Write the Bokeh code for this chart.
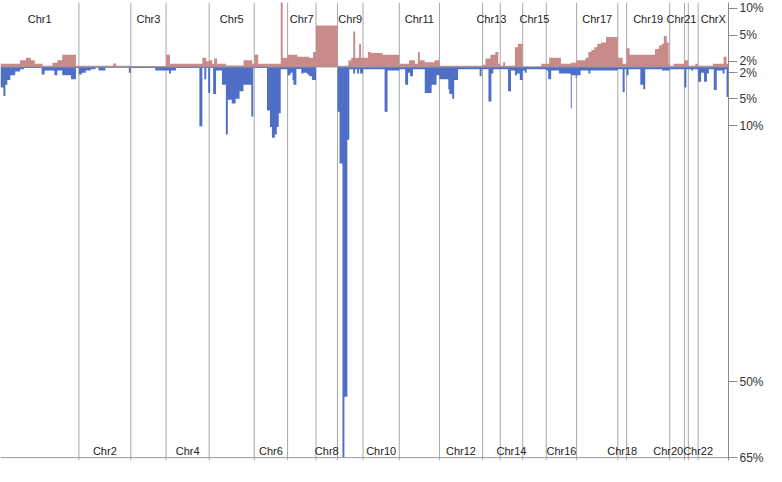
import numpy as np
from bokeh.plotting import figure
from bokeh.models import Range1d, LinearAxis, FixedTicker, Span
from bokeh.core.properties import value
from bokeh.embed import file_html
from bokeh.resources import INLINE

# ---------------- data ----------------
chrom_names = ["Chr1", "Chr2", "Chr3", "Chr4", "Chr5", "Chr6", "Chr7", "Chr8", "Chr9",
               "Chr10", "Chr11", "Chr12", "Chr13", "Chr14", "Chr15", "Chr16", "Chr17",
               "Chr18", "Chr19", "Chr20", "Chr21", "Chr22", "ChrX"]
# cumulative genome position where each chromosome ends (arbitrary genome units)
chrom_ends = [80, 133, 169, 213, 259, 293, 322, 344, 370, 407, 448, 492, 510, 533,
              557, 588, 630, 639, 683, 698, 702, 712, 743]

# gains (%), each segment runs from its start to the next start
gain_start = [0, 20, 26, 31, 35, 43, 53, 58, 63, 77,
              80, 115, 118,
              133,
              169, 173, 206, 210,
              213, 216, 218, 221, 230, 248, 257,
              259, 263, 286, 288,
              293, 303, 315, 319,
              322,
              344, 355, 358, 360, 362, 366, 368,
              370, 375, 378, 390,
              407, 417, 423, 426, 428, 433, 443,
              448,
              492, 495, 500, 505, 508,
              510, 513, 515, 525, 528,
              533, 552,
              557, 560, 572, 582,
              588, 597, 600, 603, 606, 609, 613, 618,
              630, 635,
              639, 642, 668, 672, 675, 677, 680, 682,
              683, 687,
              698,
              702, 709,
              712, 727, 738, 741]
gain_pct = [1.1, 2.1, 2.4, 2.1, 1.1, 0.4, 1.5, 2.1, 2.75, 0.4,
            0.4, 1.2, 0.4,
            0.3,
            2.75, 1.1, 2.4, 2.0,
            2.1, 1.1, 2.3, 1.1, 0.5, 2.1, 1.1,
            2.75, 1.1, 12.0, 2.4,
            2.75, 2.5, 2.4, 3.05,
            6.8,
            0.4, 2.1, 2.4, 5.7, 2.4, 4.0, 2.4,
            2.4, 3.05, 2.95, 2.75,
            1.1, 2.1, 1.1, 3.05, 2.1, 1.6, 2.1,
            0.4,
            0.8, 2.3, 2.75, 3.05, 1.1,
            0.4, 1.6, 0.4, 3.6, 4.0,
            0.2, 1.1,
            1.1, 2.4, 1.1, 1.5,
            2.1, 2.4, 3.05, 3.3, 3.6, 4.0, 4.15, 4.8,
            2.4, 1.1,
            3.5, 2.75, 3.4, 3.8, 4.0, 4.9, 4.15, 1.1,
            0.4, 1.1,
            2.1,
            0.4, 1.1,
            0.4, 1.1, 2.5, 1.1]

# losses (%)
loss_start = [0, 3, 5, 7, 10, 15, 20, 24, 42, 45, 55, 58, 63, 72, 77,
              80, 83, 87, 92, 97, 100, 107, 131,
              133, 158,
              169, 172, 174, 179, 203, 206, 208, 210, 212, 214, 217, 220, 226, 230, 232,
              236, 240, 244, 248, 256, 258,
              272, 275, 277, 280, 282, 284, 286,
              293, 296, 298, 299, 302, 307, 309, 313, 315, 318,
              322,
              344, 346, 349, 351, 354, 356, 360, 362, 364, 366, 367,
              370, 392, 395,
              407, 413, 416, 418, 421, 433, 440, 445,
              448, 457, 458, 461, 463, 467, 489, 491,
              498, 501, 503,
              510, 518, 521, 525, 527, 530,
              533, 535, 537,
              557, 559, 562, 570, 582, 583, 587,
              588, 592, 600, 602, 622,
              630, 635, 637,
              639, 641, 653, 656, 658, 675,
              683,
              698, 700,
              702, 705, 707,
              712, 715, 718, 721, 723, 728, 731, 737, 739, 741]
loss_pct = [3.7, 4.7, 3.4, 2.85, 2.3, 1.6, 0.8, 0.4, 2.2, 1.2, 2.3, 1.2, 2.3, 2.75, 0.4,
            2.2, 2.0, 1.2, 0.8, 0.3, 1.2, 0.3, 2.0,
            0.4, 1.2,
            1.2, 2.1, 1.2, 0.4, 10.1, 0.4, 2.75, 0.4, 4.35, 0.4, 4.45, 1.2, 3.4, 11.4, 5.2,
            5.9, 5.0, 4.15, 3.4, 8.3, 0.4,
            7.2, 10.2, 11.9, 11.4, 10.2, 7.7, 0.8,
            2.3, 2.0, 2.85, 3.4, 0.7, 2.1, 2.0, 2.2, 2.4, 2.85,
            0.0,
            7.4, 15.9, 65.0, 53.0, 12.2, 0.8, 2.1, 0.8, 2.1, 0.8, 2.1,
            0.8, 7.4, 1.2,
            0.8, 3.4, 2.0, 2.4, 0.8, 4.35, 3.4, 2.3,
            2.75, 3.9, 4.45, 5.0, 2.85, 0.8, 2.4, 0.8,
            5.5, 2.1, 0.8,
            0.8, 4.15, 1.2, 2.3, 2.1, 2.85,
            1.2, 2.0, 0.8,
            1.2, 2.75, 1.2, 2.1, 6.8, 2.3, 2.6,
            2.3, 1.2, 2.1, 1.2, 1.2,
            0.8, 4.25, 0.8,
            2.3, 0.8, 3.4, 3.9, 0.8, 1.2,
            0.8,
            3.7, 0.8,
            0.8, 1.2, 0.8,
            3.05, 2.0, 3.05, 2.1, 0.8, 4.0, 1.2, 2.1, 0.8, 4.8]

tick_pct = [10, 5, 2, 2, 5, 10, 50, 65]
tick_side = [1, 1, 1, -1, -1, -1, -1, -1]   # +1 gain side, -1 loss side
tick_labels = ["10%", "5%", "2%", "2%", "5%", "10%", "50%", "65%"]

assert len(gain_start) == len(gain_pct)
assert len(loss_start) == len(loss_pct)

# ---------------- scale (non-linear percentage axis) ----------------
scale_pct = [0, 2, 5, 10, 50, 65]
scale_pos = [0, 6, 33, 61, 327, 406]


def fy(v):
    return np.interp(np.asarray(v, dtype=float), scale_pct, scale_pos)


genome_end = chrom_ends[-1]
Y_TOP, Y_BOT = 67, -409

GAIN_COLOR = "#c98a8a"
LOSS_COLOR = "#4f6fc7"
LINE_COLOR = "#a8a8a8"
FONT = "Liberation Sans"

p = figure(frame_width=728, frame_height=458,
           x_range=Range1d(0, genome_end), y_range=Range1d(Y_BOT, Y_TOP),
           x_axis_location=None, y_axis_location=None,
           output_backend="svg", toolbar_location=None,
           min_border_left=0, min_border_right=0, min_border_top=2, min_border_bottom=6,
           background_fill_color="white", border_fill_color="white")
p.outline_line_color = None
p.grid.visible = False

# chromosome separators
sep_x = chrom_ends[:-1]
p.segment(x0=sep_x, y0=[Y_BOT] * len(sep_x), x1=sep_x, y1=[Y_TOP] * len(sep_x),
          line_color=LINE_COLOR, line_width=1)


def step_outline(starts, pcts, sign):
    """Staircase outline of the frequency bars (one seamless polygon)."""
    left = np.array(starts, dtype=float)
    right = np.array(list(starts[1:]) + [genome_end], dtype=float)
    h = sign * fy(pcts)
    xs = [left[0]]
    ys = [0.0]
    for l, r, v in zip(left, right, h):
        xs += [l, r]
        ys += [v, v]
    xs += [right[-1]]
    ys += [0.0]
    return xs, ys


gx, gy = step_outline(gain_start, gain_pct, 1)
p.patch(gx, gy, fill_color=GAIN_COLOR, line_color=None)

lx, ly = step_outline(loss_start, loss_pct, -1)
p.patch(lx, ly, fill_color=LOSS_COLOR, line_color=None)

# baseline and bottom line
p.add_layout(Span(location=0, dimension="width", line_color="#9a9a9a", line_width=1))
p.add_layout(Span(location=-fy(65), dimension="width", line_color="#9a9a9a", line_width=1))

# chromosome labels (odd + X on top, even at bottom)
starts = [0] + chrom_ends[:-1]
centers = [(a + b) / 2 for a, b in zip(starts, chrom_ends)]
nudge = {"Chr20": -9, "Chr21": -5, "Chr22": 5}
top_x, top_t, bot_x, bot_t = [], [], [], []
for i, (nm, c) in enumerate(zip(chrom_names, centers)):
    c = c + nudge.get(nm, 0)
    if i % 2 == 0:
        top_x.append(c); top_t.append(nm)
    else:
        bot_x.append(c); bot_t.append(nm)
p.text(x=top_x, y=[50] * len(top_x), text=top_t, text_font=value(FONT),
       text_font_size="11px", text_align="center", text_baseline="middle", text_color="#222222")
p.text(x=bot_x, y=[-399] * len(bot_x), text=bot_t, text_font=value(FONT),
       text_font_size="11px", text_align="center", text_baseline="middle", text_color="#222222")

# right percentage axis
ticks = [float(s * fy(v)) for v, s in zip(tick_pct, tick_side)]
overrides = {t: lab for t, lab in zip(ticks, tick_labels)}
ax = LinearAxis(ticker=FixedTicker(ticks=ticks), major_label_overrides=overrides,
                axis_line_color="#8a8a8a", major_tick_line_color="#8a8a8a",
                major_tick_in=0, major_tick_out=9, minor_tick_line_color=None,
                major_label_text_font=FONT, major_label_text_font_size="12px",
                major_label_text_color="#333333", major_label_standoff=2)
p.add_layout(ax, "right")

open("out.html", "w").write(file_html(p, INLINE))
